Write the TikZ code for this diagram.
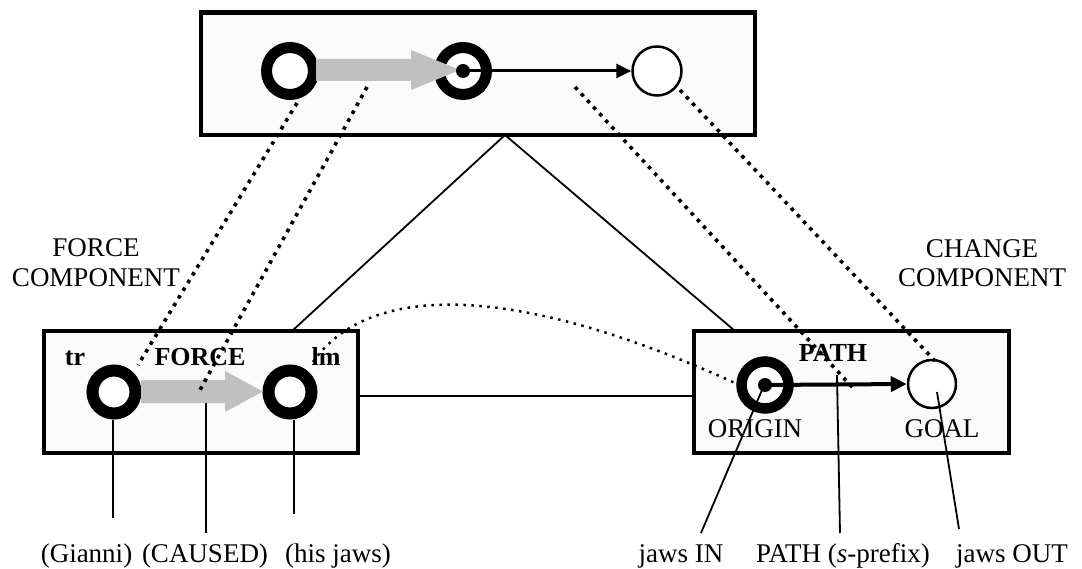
\documentclass[tikz,border=0pt]{standalone}
\usepackage{fontspec}
\setmainfont{Liberation Serif}
\usetikzlibrary{arrows.meta}
\definecolor{boxfill}{HTML}{FAFAFA}
\definecolor{arrowgrey}{HTML}{C0C0C0}
\begin{document}
\begin{tikzpicture}[x=1pt,y=-1pt,
  box/.style={draw, fill=boxfill, inner sep=0pt, outer sep=0pt, anchor=north west},
  ring/.style={circle, draw, fill=white, inner sep=0pt, line width=11pt, minimum size=47pt},
  thinring/.style={circle, draw, fill=white, inner sep=0pt, line width=2.5pt, minimum size=49pt},
  dotn/.style={circle, fill=black, inner sep=0pt, minimum size=14pt},
  lbl/.style={font=\fontsize{27}{30}\selectfont, anchor=base, inner sep=0pt},
  blbl/.style={font=\fontsize{26}{30}\selectfont\bfseries, anchor=base, inner sep=0pt},
  conn/.style={line width=1.8pt},
  dotline/.style={line width=3.6pt, dash pattern=on 3.6pt off 5.4pt},
  fineline/.style={line width=2.5pt, dash pattern=on 2.5pt off 5.5pt},
  greyarrow/.style={fill=arrowgrey, draw=none},
  blackarrow/.style={line width=#1, -{Triangle[length=15pt,width=14pt]}}
]
\useasboundingbox (0,0) rectangle (1082,569);

% boxes
\node[box, line width=4.8pt, minimum width=554pt, minimum height=122.5pt] (topbox) at (201,12.5) {};
\node[box, line width=3.5pt, minimum width=314pt, minimum height=122pt] (leftbox) at (44,331) {};
\node[box, line width=3.5pt, minimum width=315pt, minimum height=122pt] (rightbox) at (694,331) {};

% triangle connectors
\coordinate (apex) at (505,135);
\coordinate (lt) at (292,331);
\coordinate (rt) at (735,331);
\coordinate (lr) at (358,396);
\coordinate (rl) at (694,396);
\draw[conn] (lt) -- (apex) -- (rt);
\draw[conn] (lr) -- (rl);

% top component
\node[ring] (c1) at (290,71) {};
\node[ring] (c2) at (463,71) {};
\node[thinring] (c3) at (657,71) {};
\fill[greyarrow] (316,59) -- (411,59) -- (411,50) -- (460,70) -- (411,90) -- (411,81) -- (316,81) -- cycle;
\node[dotn] (c2dot) at (463,71) {};
\draw[blackarrow=3pt] (c2dot.center) -- (c3.west);

% force component
\node[ring, line width=12pt, minimum size=43pt] (tr) at (114,392) {};
\node[ring, line width=12pt, minimum size=43pt] (lm) at (290,392) {};
\fill[greyarrow] (141,380) -- (225,380) -- (225,371) -- (263,391.5) -- (225,412) -- (225,403) -- (141,403) -- cycle;

% change component
\node[ring, line width=10.5pt] (origin) at (765,385) {};
\node[thinring, minimum size=48pt] (goal) at (932,384) {};
\node[dotn] (odot) at (765,385) {};
\draw[line width=4pt, -{Triangle[length=16pt,width=15pt]}] (odot.center) -- (goal.west);

% labels inside boxes
\node[blbl] (trl) at (75,366) {tr};
\node[blbl] (forcel) at (200,366) {FORCE};
\node[blbl] (lml) at (326,366) {lm};
\node[blbl] (pathl) at (833,362) {PATH};
\node[lbl] (originl) at (755,437) {ORIGIN};
\node[lbl] (goall) at (942,437) {GOAL};

% component labels
\node[lbl] (fc1) at (96,257) {FORCE};
\node[lbl] (fc2) at (96,287) {COMPONENT};
\node[lbl] (cc1) at (982,258) {CHANGE};
\node[lbl] (cc2) at (982,287) {COMPONENT};

% bottom labels
\node[lbl] (gianni) at (86.5,562) {(Gianni)};
\node[lbl] (caused) at (205,562) {(CAUSED)};
\node[lbl] (hisjaws) at (338,562) {(his jaws)};
\node[lbl] (jawsin) at (681,562) {jaws IN};
\node[lbl] (pathpre) at (843,562) {PATH (\textit{s}-prefix)};
\node[lbl] (jawsout) at (1012,562) {jaws OUT};

% vertical lines to words
\coordinate (g1) at (113,420);  \coordinate (g2) at (113,518);
\coordinate (k1) at (206,403);  \coordinate (k2) at (206,533);
\coordinate (h1) at (294,420);  \coordinate (h2) at (294,514);
\coordinate (i1) at (765,383);  \coordinate (i2) at (701,533);
\coordinate (p1) at (837,375);  \coordinate (p2) at (840,533);
\coordinate (o1) at (937,392);  \coordinate (o2) at (959,529);
\draw[conn] (g1) -- (g2);
\draw[conn] (k1) -- (k2);
\draw[conn] (h1) -- (h2);
\draw[conn] (i1) -- (i2);
\draw[conn] (p1) -- (p2);
\draw[conn] (o1) -- (o2);

% dotted correspondence lines
\coordinate (d1a) at (297,103); \coordinate (d1b) at (138,365);
\coordinate (d2a) at (367,87);  \coordinate (d2b) at (200,390);
\coordinate (d3a) at (575,87);  \coordinate (d3b) at (853,388);
\coordinate (d4a) at (680,90);  \coordinate (d4b) at (935,361);
\draw[dotline] (d1a) -- (d1b);
\draw[dotline] (d2a) -- (d2b);
\draw[dotline] (d3a) -- (d3b);
\draw[dotline] (d4a) -- (d4b);
\coordinate (ca) at (313,362); \coordinate (cb) at (735,383);
\draw[fineline] (ca) .. controls (370,280) and (520,285) .. (cb);
\end{tikzpicture}
\end{document}
